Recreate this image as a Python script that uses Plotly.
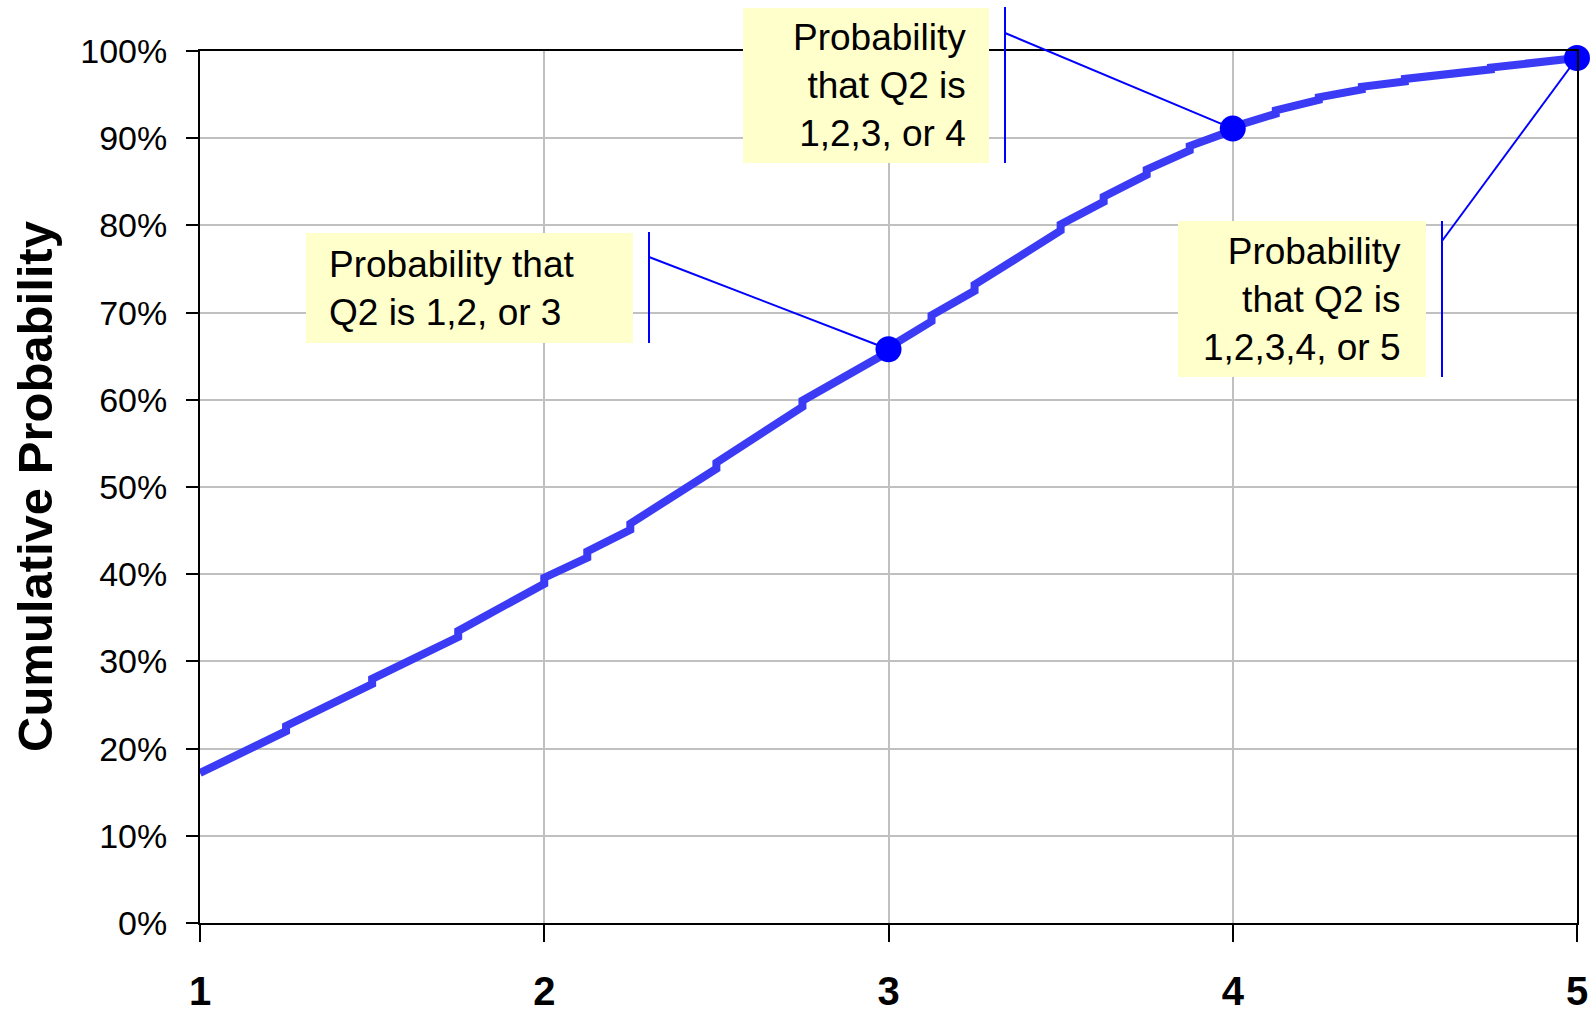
import plotly.graph_objects as go

# ---------------- data ----------------
start_x, start_cum = 1.0, 0.172
step_x = [1.25, 1.5, 1.75, 2.0, 2.125, 2.25, 2.5, 2.75, 3.0, 3.125, 3.25, 3.5,
          3.625, 3.75, 3.875, 4.0, 4.125, 4.25, 4.375, 4.5, 4.625, 4.75, 4.875]
cum_before = [0.220, 0.274, 0.328, 0.389, 0.419, 0.451, 0.521, 0.592, 0.655, 0.690,
              0.725, 0.794, 0.827, 0.858, 0.886, 0.909, 0.928, 0.944, 0.956, 0.965,
              0.973, 0.979, 0.986]
cum_after = [0.226, 0.280, 0.335, 0.396, 0.426, 0.458, 0.528, 0.599, 0.660, 0.697,
             0.732, 0.801, 0.833, 0.864, 0.891, 0.913, 0.932, 0.947, 0.959, 0.968,
             0.975, 0.981, 0.988]
end_x, end_cum = 5.0, 0.992

point_x = [3, 4, 5]
point_cum = [0.658, 0.911, 0.992]

callout_texts = [
    "Probability that<br>Q2 is 1,2, or 3",
    "Probability<br>that Q2 is<br>1,2,3, or 4",
    "Probability<br>that Q2 is<br>1,2,3,4, or 5",
]

y_tick_vals = [0, 0.1, 0.2, 0.3, 0.4, 0.5, 0.6, 0.7, 0.8, 0.9, 1.0]
x_tick_vals = [1, 2, 3, 4, 5]

# ---------------- layout geometry (window pixels) ----------------
W, H = 1594, 1018
L, R, T, B = 200, 1577, 51, 923   # plot area in window pixels
XMIN, XMAX, YMIN, YMAX = 1, 5, 0, 1


def px(xp):  # window pixel -> paper
    return (xp - L) / (R - L)


def py(yp):
    return (B - yp) / (B - T)


def data_to_paper(x, y):
    return (x - XMIN) / (XMAX - XMIN), (y - YMIN) / (YMAX - YMIN)


# build curve
cx, cy = [start_x], [start_cum]
for sx, b, a in zip(step_x, cum_before, cum_after):
    cx += [sx, sx]
    cy += [b, a]
cx.append(end_x)
cy.append(end_cum)

fig = go.Figure()
fig.add_trace(go.Scatter(x=cx, y=cy, mode="lines",
                         line=dict(color="#3b3bf5", width=8),
                         hoverinfo="skip", showlegend=False))
fig.add_trace(go.Scatter(x=point_x, y=point_cum, mode="markers",
                         marker=dict(color="#0000ff", size=26),
                         cliponaxis=False, showlegend=False))

callouts = [
    dict(box=(306, 633, 233, 343), tx=327, align="left", bar=649, bar_y=(232, 343), ly=257),
    dict(box=(743, 989, 8, 163), tx=968, align="right", bar=1005, bar_y=(7, 163), ly=33),
    dict(box=(1178, 1426, 221, 377), tx=1403, align="right", bar=1442, bar_y=(221, 377), ly=241),
]

shapes = []
annotations = []
for c, txt, xv, yv in zip(callouts, callout_texts, point_x, point_cum):
    x0, x1, y0, y1 = c["box"]
    shapes.append(dict(type="rect", xref="paper", yref="paper",
                       x0=px(x0), x1=px(x1), y0=py(y1), y1=py(y0),
                       fillcolor="#ffffcc", line=dict(width=0), layer="above"))
    shapes.append(dict(type="line", xref="paper", yref="paper",
                       x0=px(c["bar"]), x1=px(c["bar"]),
                       y0=py(c["bar_y"][1]), y1=py(c["bar_y"][0]),
                       line=dict(color="#0000ff", width=2), layer="above"))
    ex, ey = data_to_paper(xv, yv)
    shapes.append(dict(type="line", xref="paper", yref="paper",
                       x0=px(c["bar"]), y0=py(c["ly"]), x1=ex, y1=ey,
                       line=dict(color="#0000ff", width=2), layer="above"))
    annotations.append(dict(
        text=txt, xref="paper", yref="paper", showarrow=False,
        x=px(c["tx"]), y=py((y0 + y1) / 2),
        xanchor=c["align"], yanchor="middle", align=c["align"],
        font=dict(family="Liberation Sans, Arial, sans-serif", size=37, color="black"),
    ))

annotations.append(dict(
    text="<b>Cumulative Probability</b>", xref="paper", yref="paper",
    x=px(35), y=0.5, xanchor="center", yanchor="middle", textangle=-90,
    showarrow=False,
    font=dict(family="Liberation Sans, Arial, sans-serif", size=49, color="black"),
))

fig.update_layout(
    width=W, height=H,
    margin=dict(l=L, r=W - R, t=T, b=H - B, pad=0),
    paper_bgcolor="white", plot_bgcolor="white",
    shapes=shapes, annotations=annotations,
    showlegend=False,
    font=dict(family="Liberation Sans, Arial, sans-serif", color="black"),
)
fig.update_xaxes(range=[XMIN, XMAX], tickvals=x_tick_vals,
                 ticktext=[f"<b>{v}</b>" for v in x_tick_vals],
                 tickfont=dict(size=40, color="black"),
                 showgrid=True, gridcolor="#c0c0c0", gridwidth=2,
                 showline=True, linecolor="black", linewidth=2, mirror=True,
                 ticks="outside", ticklen=17, tickwidth=2, tickcolor="black",
                 ticklabelstandoff=15, zeroline=False, automargin=False)
fig.update_yaxes(range=[YMIN, YMAX], tickvals=y_tick_vals, tickformat=".0%",
                 tickfont=dict(size=34, color="black"),
                 showgrid=True, gridcolor="#c0c0c0", gridwidth=2,
                 showline=True, linecolor="black", linewidth=2, mirror=True,
                 ticks="outside", ticklen=12, tickwidth=2, tickcolor="black",
                 ticklabelstandoff=12, zeroline=False, automargin=False)

fig.write_html("out.html", config={"displayModeBar": False},
               post_script="document.body.style.margin='0';document.body.style.overflow='hidden';")
